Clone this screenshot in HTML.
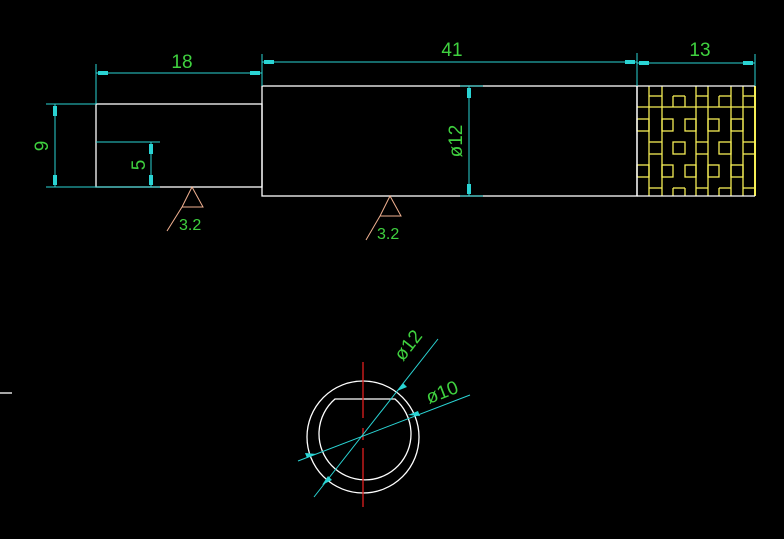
<!DOCTYPE html>
<html><head><meta charset="utf-8"><style>
html,body{margin:0;padding:0;background:#000;}
svg{display:block}
text{font-family:"Liberation Sans",sans-serif;fill:#3fd13f;}
</style></head><body>
<svg width="784" height="539" viewBox="0 0 784 539" xmlns="http://www.w3.org/2000/svg">
<rect width="784" height="539" fill="#000"/>
<!-- hatch -->
<g stroke="#f5ee55" stroke-width="1.3" fill="none">
<line x1="755" y1="86" x2="755" y2="196" stroke-width="2"/>
<line x1="649" y1="86" x2="649" y2="196"/><line x1="743" y1="86" x2="743" y2="196"/>
<line x1="662" y1="86" x2="662" y2="196"/><line x1="731" y1="86" x2="731" y2="196"/>
<line x1="696" y1="86" x2="696" y2="196"/><line x1="708" y1="86" x2="708" y2="196"/>
<line x1="637" y1="107" x2="755" y2="107"/>
<line x1="649" y1="96" x2="662" y2="96"/><line x1="673" y1="96" x2="673" y2="107"/><line x1="673" y1="96" x2="685" y2="96"/><line x1="685" y1="96" x2="685" y2="107"/>
<line x1="696" y1="96" x2="708" y2="96"/><line x1="719" y1="96" x2="731" y2="96"/><line x1="719" y1="96" x2="719" y2="107"/><line x1="743" y1="96" x2="755" y2="96"/>
<rect x="637" y="119" width="12" height="12"/><rect x="662" y="119" width="11" height="12"/><rect x="685" y="119" width="11" height="12"/><rect x="708" y="119" width="11" height="12"/><rect x="731" y="119" width="12" height="12"/>
<line x1="649" y1="142" x2="662" y2="142"/><line x1="649" y1="154" x2="662" y2="154"/><rect x="673" y="142" width="12" height="12"/><line x1="696" y1="142" x2="708" y2="142"/><line x1="696" y1="154" x2="708" y2="154"/><rect x="719" y="142" width="12" height="12"/><line x1="743" y1="142" x2="755" y2="142"/><line x1="743" y1="154" x2="755" y2="154"/>
<rect x="637" y="165" width="12" height="12"/><rect x="662" y="165" width="11" height="12"/><rect x="685" y="165" width="11" height="12"/><rect x="708" y="165" width="11" height="12"/><rect x="731" y="165" width="12" height="12"/>
<line x1="649" y1="188" x2="662" y2="188"/><line x1="673" y1="188" x2="685" y2="188"/><line x1="673" y1="188" x2="673" y2="196"/><line x1="685" y1="188" x2="685" y2="196"/><line x1="696" y1="188" x2="708" y2="188"/><line x1="719" y1="188" x2="731" y2="188"/><line x1="719" y1="188" x2="719" y2="196"/><line x1="743" y1="188" x2="755" y2="188"/>
</g>
<!-- body outlines -->
<g stroke="#fff" stroke-width="1.3" fill="none">
<rect x="96" y="104" width="166" height="83"/>
<rect x="262" y="86" width="375" height="110"/>
<line x1="637" y1="86" x2="755" y2="86"/>
<line x1="637" y1="196" x2="755" y2="196"/>
<line x1="637" y1="86" x2="637" y2="196"/>
<line x1="0" y1="393" x2="12" y2="393"/>
</g>
<!-- dimension lines -->
<g stroke="#2ad4d4" stroke-width="1" fill="none">
<line x1="96" y1="64" x2="96" y2="104"/>
<line x1="262" y1="54" x2="262" y2="86"/>
<line x1="637" y1="53" x2="637" y2="86"/>
<line x1="755" y1="54" x2="755" y2="86"/>
<line x1="46" y1="104" x2="96" y2="104"/>
<line x1="46" y1="187" x2="96" y2="187"/>
<line x1="96" y1="142" x2="160" y2="142"/>
<line x1="96" y1="187" x2="160" y2="187"/>
<line x1="460" y1="86" x2="483" y2="86"/>
<line x1="460" y1="196" x2="483" y2="196"/>
<line x1="96" y1="73" x2="262" y2="73"/>
<line x1="262" y1="62" x2="637" y2="62"/>
<line x1="637" y1="63" x2="755" y2="63"/>
<line x1="55" y1="104" x2="55" y2="187"/>
<line x1="151" y1="142" x2="151" y2="187"/>
<line x1="469" y1="86" x2="469" y2="196"/>
</g>
<!-- arrowheads -->
<g fill="#2ad4d4">
<rect x="98" y="71" width="10" height="4"/><rect x="250" y="71" width="10" height="4"/>
<rect x="264" y="60" width="10" height="4"/><rect x="625" y="60" width="10" height="4"/>
<rect x="639" y="61" width="10" height="4"/><rect x="743" y="61" width="10" height="4"/>
<rect x="53" y="106" width="4" height="10"/><rect x="53" y="175" width="4" height="10"/>
<rect x="149" y="144" width="4" height="10"/><rect x="149" y="175" width="4" height="10"/>
<rect x="467" y="88" width="4" height="10"/><rect x="467" y="184" width="4" height="10"/>
</g>
<!-- dim text -->
<text x="182" y="68" font-size="19" text-anchor="middle">18</text>
<text x="452" y="56" font-size="19" text-anchor="middle">41</text>
<text x="700" y="56" font-size="19" text-anchor="middle">13</text>
<text font-size="19" text-anchor="middle" transform="translate(48,146) rotate(-90)">9</text>
<text font-size="19" text-anchor="middle" transform="translate(145,165) rotate(-90)">5</text>
<text font-size="19" text-anchor="middle" transform="translate(462,141) rotate(-90)">ø12</text>
<!-- surface roughness -->
<g stroke="#f0b090" stroke-width="1" fill="none">
<polyline points="182,207 192,187 203,207 182,207"/>
<line x1="182" y1="207" x2="167" y2="231"/>
<polyline points="380,216 390,196 401,216 380,216"/>
<line x1="380" y1="216" x2="366" y2="240"/>
</g>
<text x="179" y="230" font-size="16">3.2</text>
<text x="377" y="239" font-size="16">3.2</text>
<!-- section view -->
<g stroke="#fff" stroke-width="1.3" fill="none">
<circle cx="363" cy="437" r="56"/>
<path d="M 335 399 L 395 399 A 46 46 0 1 1 335 399 Z"/>
</g>
<g stroke="#e02020" stroke-width="1.3">
<line x1="363" y1="362" x2="363" y2="418"/>
<line x1="363" y1="428" x2="363" y2="440"/>
<line x1="363" y1="448" x2="363" y2="507"/>
</g>
<g stroke="#2ad4d4" stroke-width="1">
<line x1="438" y1="339" x2="314" y2="497"/>
<line x1="470" y1="395" x2="298" y2="461"/>
</g>
<g fill="#2ad4d4">
<polygon points="397,391 403,383 407,387"/>
<polygon points="322,485 328,476 332,480"/>
<polygon points="408,415 418,411 420,416"/>
<polygon points="317,454 307,458 305,453"/>
</g>
<text font-size="19" transform="translate(403,362) rotate(-52)">ø12</text>
<text font-size="19" transform="translate(429,404) rotate(-21)">ø10</text>
</svg>
</body></html>
